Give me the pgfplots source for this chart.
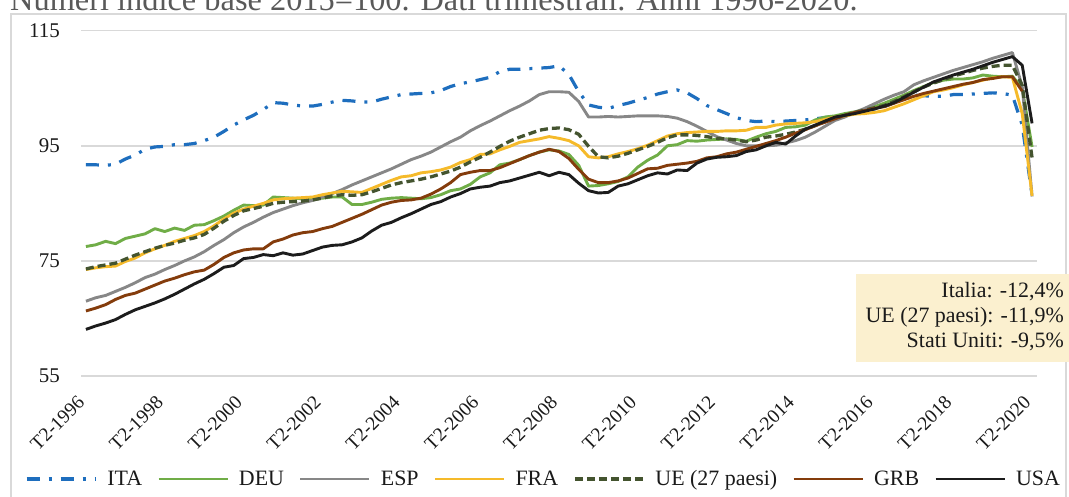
\documentclass[border=0pt]{standalone}
\usepackage{pgfplots}
\pgfplotsset{compat=1.18}
\usepackage{pgfplotstable}
\usepackage{fontspec}
\setmainfont{Liberation Serif}
\definecolor{itablue}{HTML}{1E6EBE}
\definecolor{deugreen}{HTML}{70AD47}
\definecolor{espgray}{HTML}{878787}
\definecolor{fragold}{HTML}{F5BA2A}
\definecolor{uegreen}{HTML}{44542F}
\definecolor{grbbrown}{HTML}{843C0C}
\definecolor{usablack}{HTML}{1C1C1C}
\definecolor{gridgray}{HTML}{D9D9D9}
\definecolor{framegray}{HTML}{D9D9D9}
\definecolor{titlegray}{HTML}{595959}
\definecolor{annofill}{HTML}{FBF0CF}
\definecolor{txt}{HTML}{1A1A1A}

\pgfplotstableread{
i ITA DEU ESP FRA UE GRB USA
0 91.7 77.5 68.0 73.5 73.6 66.3 63.1
1 91.7 77.8 68.6 73.8 74.0 66.8 63.7
2 91.6 78.4 69.0 74.0 74.3 67.4 64.2
3 91.8 78.0 69.7 74.1 74.6 68.3 64.8
4 92.7 78.9 70.4 74.9 75.3 69.0 65.7
5 93.4 79.3 71.2 75.5 76.0 69.4 66.5
6 94.4 79.7 72.1 76.4 76.6 70.1 67.1
7 94.8 80.6 72.7 77.1 77.2 70.8 67.7
8 94.9 80.1 73.5 77.7 77.7 71.5 68.4
9 95.2 80.7 74.2 78.4 78.1 72.0 69.2
10 95.2 80.3 75.0 78.9 78.6 72.6 70.1
11 95.4 81.2 75.7 79.4 79.0 73.1 71.0
12 95.9 81.3 76.6 80.1 79.6 73.4 71.8
13 96.5 82.0 77.7 81.1 80.7 74.4 72.8
14 97.5 82.8 78.7 82.3 81.9 75.6 73.9
15 98.6 83.8 79.9 83.3 82.9 76.4 74.2
16 99.5 84.7 80.9 84.0 83.7 76.9 75.4
17 100.3 84.6 81.7 84.5 84.1 77.1 75.6
18 101.3 84.7 82.6 85.0 84.5 77.1 76.1
19 102.5 86.1 83.4 85.6 85.0 78.3 75.9
20 102.4 86.0 84.0 85.8 85.2 78.8 76.4
21 102.1 85.9 84.6 85.9 85.3 79.5 76.0
22 101.9 85.8 85.1 86.0 85.4 79.9 76.2
23 101.9 85.8 85.5 86.1 85.6 80.1 76.8
24 102.2 85.9 86.1 86.5 85.9 80.6 77.4
25 102.6 86.1 86.7 86.8 86.3 81.0 77.7
26 102.9 86.1 87.4 87.1 86.5 81.7 77.8
27 102.8 84.8 88.2 87.0 86.4 82.4 78.3
28 102.6 84.8 88.9 86.9 86.5 83.1 79.0
29 102.6 85.2 89.6 87.6 87.0 83.9 80.2
30 103.1 85.7 90.3 88.3 87.6 84.7 81.2
31 103.5 85.9 91.0 89.0 88.2 85.2 81.7
32 103.9 86.0 91.8 89.6 88.6 85.5 82.5
33 104.0 85.9 92.6 89.8 88.9 85.6 83.2
34 104.1 85.8 93.2 90.3 89.2 85.9 84.0
35 104.2 86.0 93.9 90.5 89.6 86.6 84.8
36 104.6 86.5 94.8 90.8 90.1 87.5 85.3
37 105.3 87.2 95.7 91.3 90.6 88.6 86.1
38 105.8 87.5 96.5 92.1 91.3 90.0 86.7
39 106.1 88.3 97.6 92.6 92.2 90.4 87.5
40 106.5 89.6 98.5 93.5 93.0 90.7 87.8
41 106.9 90.3 99.3 93.6 93.9 90.7 88.0
42 107.9 91.7 100.2 94.3 94.9 91.2 88.6
43 108.3 92.0 101.1 94.9 95.8 91.9 88.9
44 108.3 92.6 101.9 95.6 96.5 92.6 89.4
45 108.4 93.3 102.8 95.9 97.1 93.3 89.9
46 108.5 93.9 103.9 96.2 97.7 93.9 90.4
47 108.6 94.3 104.4 96.6 98.0 94.4 89.8
48 108.9 94.1 104.4 96.3 98.1 94.0 90.4
49 107.4 93.5 104.3 95.9 97.8 92.8 90.0
50 104.4 91.6 102.7 95.0 97.0 90.9 88.5
51 102.1 88.0 100.0 93.1 94.9 89.2 87.2
52 101.7 88.1 100.0 92.9 93.1 88.6 86.8
53 101.5 88.4 100.1 93.1 92.9 88.6 86.9
54 102.0 88.8 100.0 93.6 93.2 88.9 88.0
55 102.4 89.6 100.1 94.0 93.7 89.4 88.4
56 102.9 91.3 100.2 94.5 94.3 90.2 89.1
57 103.4 92.5 100.2 95.1 94.9 91.0 89.8
58 104.0 93.4 100.2 95.9 95.6 91.1 90.3
59 104.4 95.0 100.1 96.7 96.4 91.6 90.1
60 104.7 95.2 99.8 97.1 96.9 91.8 90.8
61 104.2 95.9 99.2 97.3 96.9 92.0 90.7
62 103.2 95.8 98.4 97.4 96.8 92.3 92.0
63 102.0 96.0 97.5 97.5 96.6 92.9 92.7
64 101.3 96.1 96.6 97.5 96.3 93.1 93.0
65 100.6 96.2 96.0 97.6 96.2 93.6 93.1
66 99.9 96.1 95.4 97.6 96.0 93.9 93.3
67 99.4 95.8 95.0 97.7 95.7 94.4 94.0
68 99.2 96.5 95.0 98.2 96.0 94.9 94.3
69 99.3 97.1 95.0 98.2 96.5 95.4 95.0
70 99.2 97.5 95.1 98.6 96.7 95.9 95.6
71 99.3 98.2 95.5 98.8 97.0 96.5 95.3
72 99.4 98.3 95.9 98.9 97.4 97.2 96.7
73 99.5 98.6 96.5 99.0 97.9 97.8 97.9
74 99.7 99.5 97.4 99.2 98.5 98.5 98.6
75 99.9 100.0 98.4 99.6 99.2 99.1 99.3
76 100.1 100.2 99.4 100.0 99.8 99.7 100.0
77 100.4 100.6 100.0 100.2 100.3 100.3 100.3
78 100.8 100.9 100.8 100.5 100.8 100.8 100.6
79 101.1 101.3 101.5 100.6 101.2 101.1 101.0
80 101.4 101.8 102.3 100.8 101.6 101.5 101.4
81 101.8 102.4 103.1 101.1 102.0 101.8 101.9
82 102.5 103.1 103.8 101.7 102.7 102.4 102.5
83 103.3 103.8 104.4 102.3 103.5 103.0 103.4
84 103.8 104.6 105.6 103.0 104.4 103.6 104.3
85 103.7 105.3 106.3 103.7 105.2 104.1 105.2
86 103.6 106.0 106.9 104.4 105.9 104.5 106.1
87 103.6 106.4 107.5 104.7 106.5 104.9 106.7
88 103.9 106.6 108.1 105.1 107.1 105.3 107.3
89 103.9 106.6 108.6 105.6 107.6 105.7 107.8
90 104.0 106.8 109.1 106.0 108.1 106.0 108.3
91 104.1 107.3 109.6 106.4 108.5 106.5 108.9
92 104.2 107.1 110.2 106.8 108.8 106.7 109.5
93 104.1 107.0 110.7 107.0 109.0 107.0 110.0
94 103.8 107.1 111.2 106.9 109.0 107.0 110.5
95 98.6 105.0 105.3 100.6 105.5 104.5 109.0
96 86.4 94.8 86.2 86.3 92.9 nan 98.9
}\gdpdata

\begin{document}
\begin{tikzpicture}
\path[use as bounding box] (0bp,0bp) rectangle (1069bp,-497bp);
\clip (0bp,0bp) rectangle (1069bp,-497bp);
\node[anchor=base west, inner sep=0pt, text=titlegray, font=\fontsize{32.5}{36}\selectfont] at (10bp,-10bp) {Numeri indice base 2015=100. Dati trimestrali. Anni 1996-2020.};
\draw[framegray, line width=1.3bp] (11bp,-520bp) -- (11bp,-14bp) -- (1066bp,-14bp) -- (1066bp,-520bp);
\begin{axis}[
  at={(81bp,-376bp)}, anchor=south west,
  scale only axis, width=956bp, height=345.3bp,
  xmin=-0.5, xmax=96.5, ymin=55, ymax=115,
  axis line style={draw=none},
  major tick length=0pt,
  ytick={55,75,95,115},
  ymajorgrids, grid style={line width=1.5bp, draw=gridgray},
  xtick={0,8,...,96},
  xticklabels={T2-1996,T2-1998,T2-2000,T2-2002,T2-2004,T2-2006,T2-2008,T2-2010,T2-2012,T2-2014,T2-2016,T2-2018,T2-2020},
  /pgf/number format/assume math mode=true,
  yticklabel style={font=\fontsize{21}{21}\selectfont, text=txt, inner sep=0pt, anchor=east, xshift=-21bp},
  xticklabel style={font=\fontsize{19.5}{19.5}\selectfont, text=txt, inner sep=0pt, anchor=south east, rotate=45},
  xticklabel shift=28bp,
  legend columns=7,
  legend style={at={(0.4838,-0.2983)}, anchor=center, draw=none, fill=none,
    font=\fontsize{22}{22}\selectfont, text=txt,
    /tikz/every odd column/.append style={column sep=8bp},
    /tikz/every even column/.append style={column sep=13bp}},
  legend image code/.code={\draw[#1] (0bp,0bp) -- (69bp,0bp);},
  legend cell align=left,
  every axis plot/.append style={line join=round},
]
\addplot[itablue, line width=3.2bp, dash pattern=on 13bp off 9bp on 3bp off 9bp] table[x=i,y=ITA]{\gdpdata};
\addlegendentry{ITA}
\addplot[deugreen, line width=2.9bp] table[x=i,y=DEU]{\gdpdata};
\addlegendentry{DEU}
\addplot[espgray, line width=2.9bp] table[x=i,y=ESP]{\gdpdata};
\addlegendentry{ESP}
\addplot[fragold, line width=2.9bp] table[x=i,y=FRA]{\gdpdata};
\addlegendentry{FRA}
\addplot[uegreen, line width=3.3bp, dash pattern=on 8bp off 4bp] table[x=i,y=UE]{\gdpdata};
\addlegendentry{UE (27 paesi)}
\addplot[grbbrown, line width=2.9bp] table[x=i,y=GRB]{\gdpdata};
\addlegendentry{GRB}
\addplot[usablack, line width=2.9bp] table[x=i,y=USA]{\gdpdata};
\addlegendentry{USA}
\end{axis}
\fill[annofill] (856bp,-274bp) rectangle (1069bp,-362bp);
\node[anchor=base east, inner sep=0pt, text=txt, font=\fontsize{22}{22}\selectfont] at (1064bp,-297bp) {Italia: -12,4\%};
\node[anchor=base east, inner sep=0pt, text=txt, font=\fontsize{22}{22}\selectfont] at (1064bp,-322bp) {UE (27 paesi): -11,9\%};
\node[anchor=base east, inner sep=0pt, text=txt, font=\fontsize{22}{22}\selectfont] at (1064bp,-347bp) {Stati Uniti: -9,5\%};
\end{tikzpicture}
\end{document}
